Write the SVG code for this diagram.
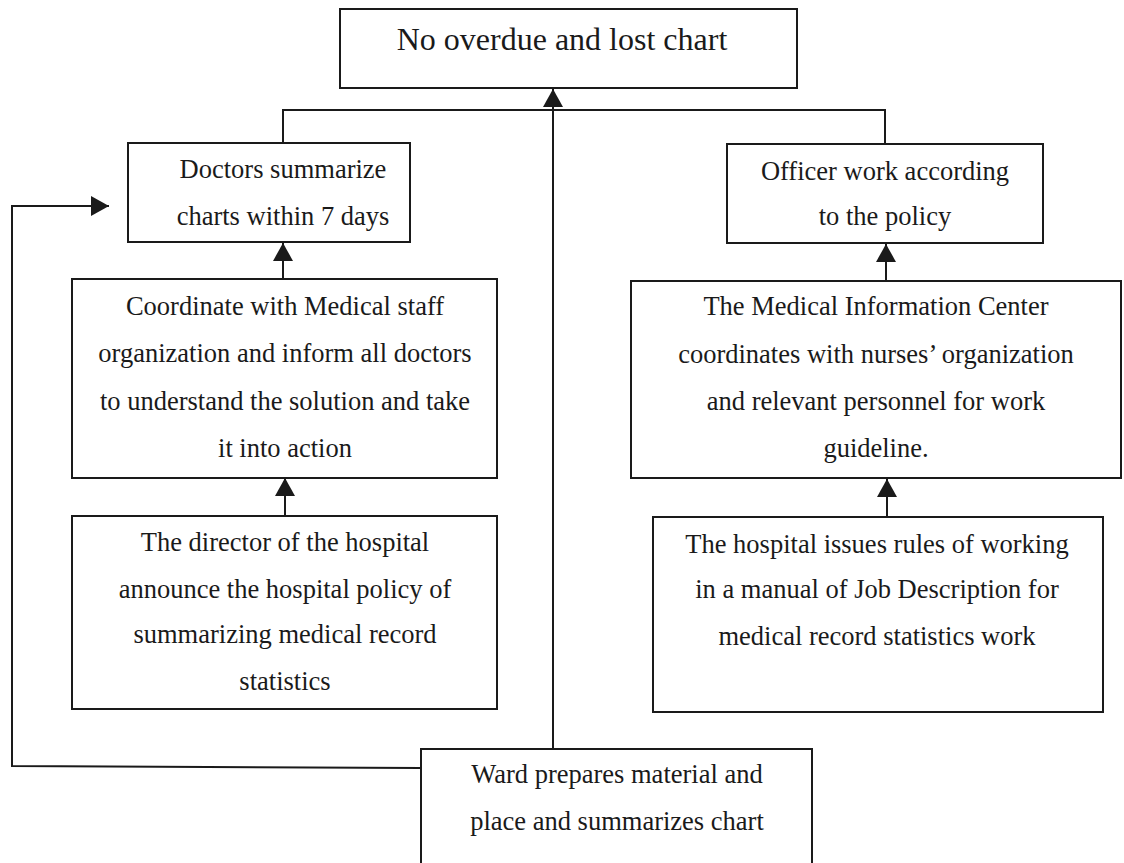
<svg xmlns="http://www.w3.org/2000/svg" width="1124" height="863" viewBox="0 0 1124 863">
  <style>
    .box { fill: #ffffff; stroke: #1a1a1a; stroke-width: 2; }
    .lbl { font-family: "Liberation Serif", "Times New Roman", serif; font-size: 26.5px; fill: #1a1a1a; text-anchor: middle; }
    .title { font-size: 32px; }
    .wire { fill: none; stroke: #1a1a1a; stroke-width: 2; }
  </style>
  <defs>
    <marker id="head" markerUnits="userSpaceOnUse" markerWidth="22" markerHeight="22" viewBox="0 0 22 22" refX="20" refY="11" orient="auto">
      <path d="M2,1 L20,11 L2,21 Z" fill="#1a1a1a"/>
    </marker>
  </defs>
  <rect width="1124" height="863" fill="#ffffff"/>

  <!-- connectors -->
  <g id="connectors">
    <!-- branches joining the goal -->
    <polyline class="wire" points="283,143 283,110 885,110 885,144"/>
    <!-- ward to goal -->
    <line class="wire" x1="553" y1="749" x2="553" y2="89" marker-end="url(#head)"/>
    <!-- ward feedback loop to doctors -->
    <polyline class="wire" points="421,768 12,766 12,206 109,206" marker-end="url(#head)"/>
    <!-- left column -->
    <line class="wire" x1="283" y1="279" x2="283" y2="243" marker-end="url(#head)"/>
    <line class="wire" x1="285" y1="516" x2="285" y2="478" marker-end="url(#head)"/>
    <!-- right column -->
    <line class="wire" x1="886" y1="281" x2="886" y2="244" marker-end="url(#head)"/>
    <line class="wire" x1="887" y1="517" x2="887" y2="479" marker-end="url(#head)"/>
  </g>

  <g id="goal">
    <rect class="box" x="340" y="9" width="457" height="79"/>
    <text class="lbl title" x="562" y="50">No overdue and lost chart</text>
  </g>

  <g id="doctors">
    <rect class="box" x="128" y="143" width="282" height="99"/>
    <text class="lbl" x="283" y="178">Doctors summarize</text>
    <text class="lbl" x="283" y="225">charts within 7 days</text>
  </g>

  <g id="officer">
    <rect class="box" x="727" y="144" width="316" height="99"/>
    <text class="lbl" x="885" y="180">Officer work according</text>
    <text class="lbl" x="885" y="225">to the policy</text>
  </g>

  <g id="coordinate">
    <rect class="box" x="72" y="279" width="425" height="199"/>
    <text class="lbl" x="285" y="315">Coordinate with Medical staff</text>
    <text class="lbl" x="285" y="362">organization and inform all doctors</text>
    <text class="lbl" x="285" y="410">to understand the solution and take</text>
    <text class="lbl" x="285" y="457">it into action</text>
  </g>

  <g id="info-center">
    <rect class="box" x="631" y="281" width="490" height="197"/>
    <text class="lbl" x="876" y="315">The Medical Information Center</text>
    <text class="lbl" x="876" y="363">coordinates with nurses’ organization</text>
    <text class="lbl" x="876" y="410">and relevant personnel for work</text>
    <text class="lbl" x="876" y="457">guideline.</text>
  </g>

  <g id="director">
    <rect class="box" x="72" y="516" width="425" height="193"/>
    <text class="lbl" x="285" y="551">The director of the hospital</text>
    <text class="lbl" x="285" y="598">announce the hospital policy of</text>
    <text class="lbl" x="285" y="643">summarizing medical record</text>
    <text class="lbl" x="285" y="690">statistics</text>
  </g>

  <g id="rules">
    <rect class="box" x="653" y="517" width="450" height="195"/>
    <text class="lbl" x="877" y="553">The hospital issues rules of working</text>
    <text class="lbl" x="877" y="598">in a manual of Job Description for</text>
    <text class="lbl" x="877" y="645">medical record statistics work</text>
  </g>

  <g id="ward">
    <rect class="box" x="421" y="749" width="391" height="130"/>
    <text class="lbl" x="617" y="783">Ward prepares material and</text>
    <text class="lbl" x="617" y="830">place and summarizes chart</text>
  </g>
</svg>
